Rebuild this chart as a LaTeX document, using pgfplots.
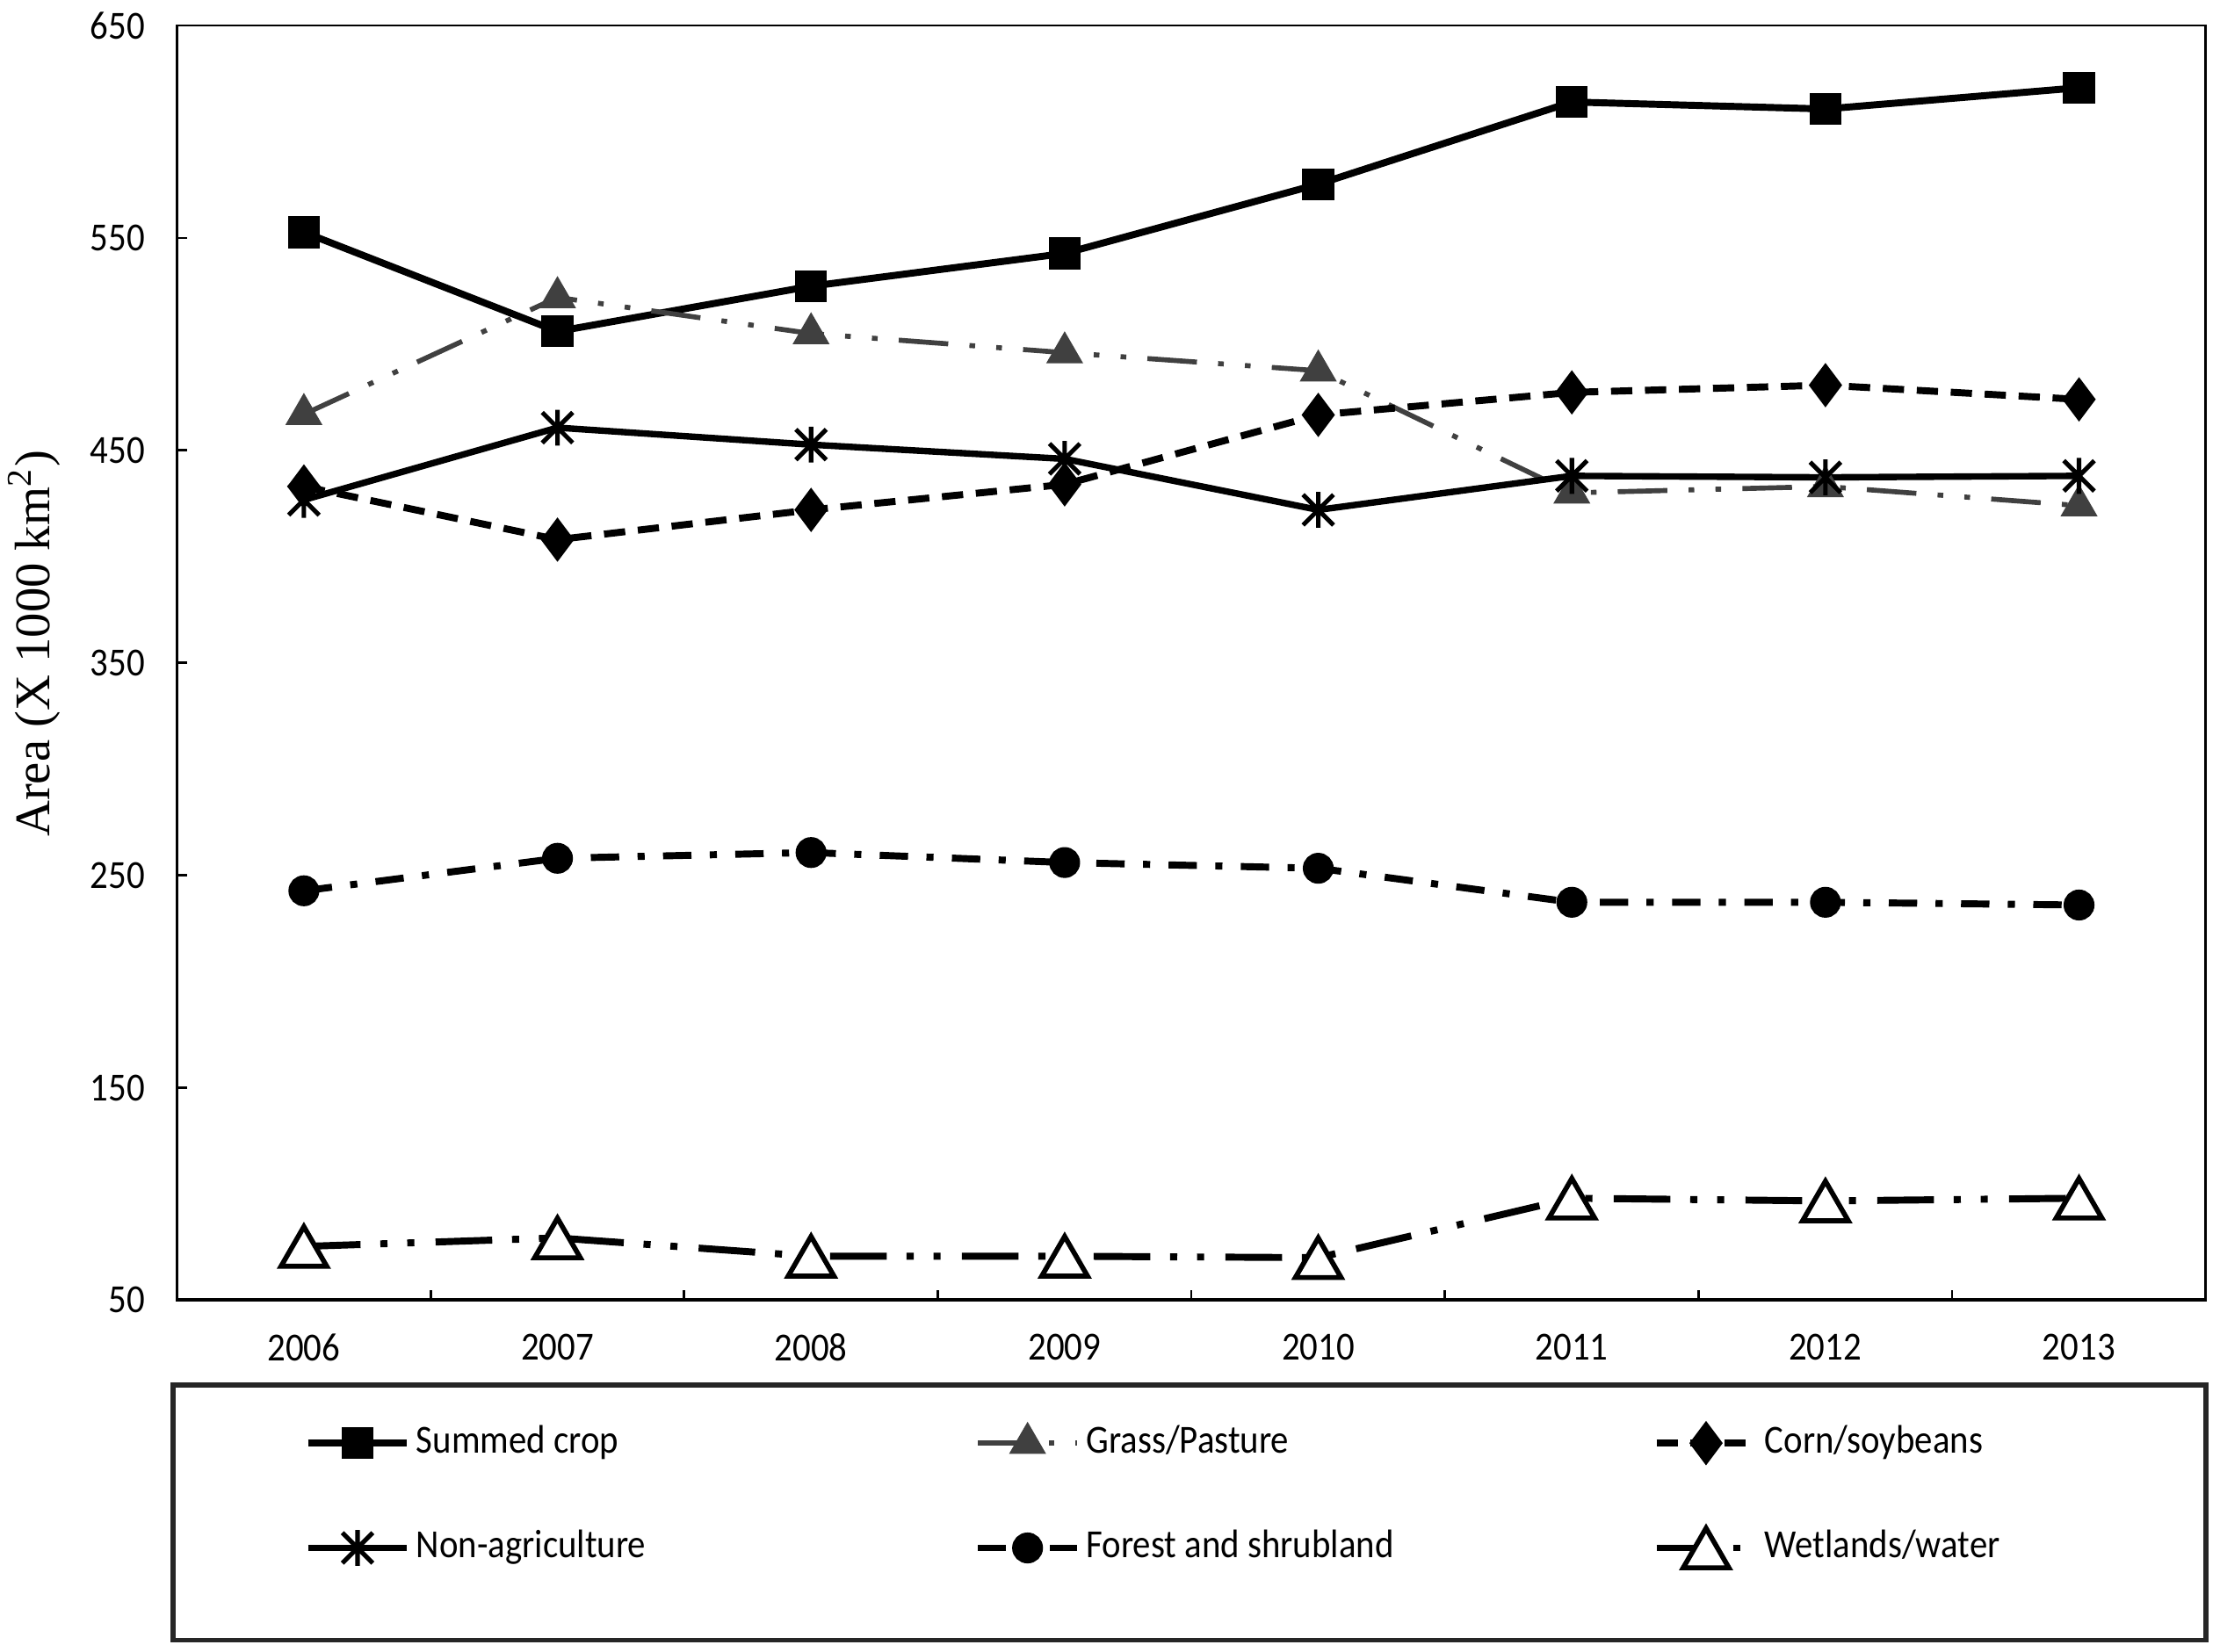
\documentclass[border=0pt]{standalone}
\usepackage{fontspec}
\setmainfont{Carlito}[FakeStretch=0.9]
\newfontfamily\timesfont{Liberation Serif}
\usepackage{pgfplots}
\pgfplotsset{compat=1.18}
\definecolor{grassgray}{RGB}{64,64,64}

% asterisk as in the source: a vertical stroke and two diagonals
\pgfdeclareplotmark{vstar}{%
  \pgfpathmoveto{\pgfqpoint{0pt}{\pgfplotmarksize}}%
  \pgfpathlineto{\pgfqpoint{0pt}{-\pgfplotmarksize}}%
  \pgfpathmoveto{\pgfqpoint{-.85\pgfplotmarksize}{-.85\pgfplotmarksize}}%
  \pgfpathlineto{\pgfqpoint{.85\pgfplotmarksize}{.85\pgfplotmarksize}}%
  \pgfpathmoveto{\pgfqpoint{-.85\pgfplotmarksize}{.85\pgfplotmarksize}}%
  \pgfpathlineto{\pgfqpoint{.85\pgfplotmarksize}{-.85\pgfplotmarksize}}%
  \pgfusepathqstroke}

\begin{document}
\begin{tikzpicture}
\begin{axis}[
  at={(0,0)}, anchor=south west,
  width=14.32cm, height=9cm, scale only axis,
  xmin=2005.5, xmax=2013.5, ymin=50, ymax=650,
  xtick={2005.5,2006.5,...,2013.5},
  x tick label as interval,
  xticklabels={2006,2007,2008,2009,2010,2011,2012,2013},
  ytick={50,150,...,650},
  xtick pos=bottom, ytick pos=left,
  tick align=inside,
  major tick length=0.07cm,
  tick style={line width=0.5pt, black},
  axis line style={line width=0.5pt},
  /pgf/number format/assume math mode=true,
  ticklabel style={font=\fontsize{8}{9.6}\selectfont, inner sep=0pt},
  xticklabel style={yshift=-0.23cm},
  yticklabel style={xshift=-0.22cm},
  ylabel={\timesfont Area (X 1000 km\textsuperscript{2})},
  ylabel style={font=\fontsize{10}{12}\selectfont, at={(axis description cs:-0.0705,0.515)}, anchor=center},
  legend columns=3,
  legend cell align=left,
  legend style={at={(axis description cs:0.0628,-0.0966)}, anchor=north west,
    draw=none, fill=none, inner sep=0pt, outer sep=0pt, row sep=0.46cm,
    font=\fontsize{8}{9.6}\selectfont,
    nodes={inner sep=0pt, text height=0.21cm, text depth=0.07cm},
    /tikz/every odd column/.append style={column sep=0.04cm}},
  legend image code/.code={\draw[mark repeat=2,mark phase=2] plot coordinates {(0cm,0cm) (0.35cm,0cm) (0.7cm,0cm)};},
]

% summed crop
\addplot[black, line width=1.4pt, mark=square*, mark size=2.5pt] coordinates {
  (2006,552.7) (2007,506) (2008,527.3) (2009,542.7) (2010,575.3) (2011,614) (2012,610.7) (2013,620.7)};
\addlegendentry{\makebox[3.94cm][l]{Summed crop}}

% grass / pasture
\addplot[grassgray, line width=1pt, dash pattern=on 0.35cm off 0.15cm on 0.04cm off 0.15cm on 0.04cm off 0.15cm,
  mark=triangle*, mark size=3.3pt, mark options={solid}] coordinates {
  (2006,467) (2007,522) (2008,505) (2009,496) (2010,487.5) (2011,430) (2012,433) (2013,424)};
\addlegendentry{\makebox[4.0cm][l]{Grass/Pasture}}

% corn / soybeans
\addplot[black, line width=1.4pt, dash pattern=on 0.15cm off 0.09cm,
  mark=diamond*, mark size=3.3pt, mark options={solid}] coordinates {
  (2006,433) (2007,408) (2008,422) (2009,434) (2010,466.7) (2011,477.3) (2012,480.7) (2013,474)};
\addlegendentry{\makebox[2.3cm][l]{Corn/soybeans}}

% non-agriculture
\addplot[black, line width=1.3pt, mark=vstar, mark size=3.6pt, mark options={solid, line width=0.9pt}] coordinates {
  (2006,426.7) (2007,460.7) (2008,452.7) (2009,446) (2010,422) (2011,438) (2012,437.3) (2013,438)};
\addlegendentry{Non-agriculture}

% forest and shrubland
\addplot[black, line width=1.4pt, dash pattern=on 0.2cm off 0.13cm on 0.05cm off 0.13cm,
  mark=*, mark size=2.4pt, mark options={solid}] coordinates {
  (2006,242.7) (2007,258) (2008,260.7) (2009,256) (2010,253.3) (2011,237.3) (2012,237.3) (2013,236)};
\addlegendentry{Forest and shrubland}

% wetlands / water
\addplot[black, line width=1.4pt, dash pattern=on 0.4cm off 0.14cm on 0.05cm off 0.14cm on 0.05cm off 0.15cm,
  mark=triangle*, mark size=5.3pt, mark options={solid, fill=white, draw=black, line width=1pt, yshift=-0.047cm}] coordinates {
  (2006,75.3) (2007,79.3) (2008,70.7) (2009,70.7) (2010,70) (2011,98) (2012,96.7) (2013,98)};
\addlegendentry{Wetlands/water}

% heavier bottom axis line, as in the source
\draw[line width=1pt] (rel axis cs:0,0) -- (rel axis cs:1,0);
\end{axis}
\draw[line width=1pt, black!85] (-0.03,-0.60) rectangle (14.32,-2.40);
\pgfresetboundingbox
\path[use as bounding box] (-1.25,-2.48) rectangle (14.42,9.18);
\end{tikzpicture}
\end{document}
